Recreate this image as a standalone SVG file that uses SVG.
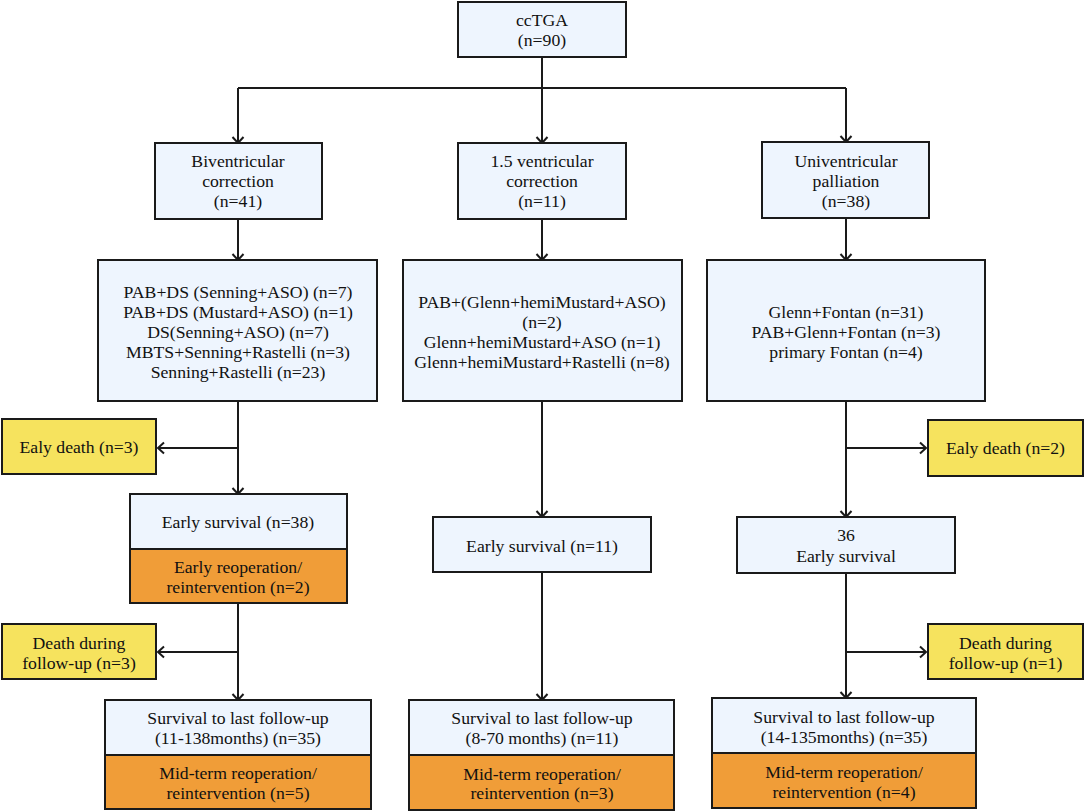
<svg xmlns="http://www.w3.org/2000/svg" width="1084" height="812" viewBox="0 0 1084 812">
<style>
.b{fill:#EEF5FE;stroke:#1a1a1a;stroke-width:2}
.y{fill:#F6E35E;stroke:#1a1a1a;stroke-width:2}
.o{fill:#F09D38;stroke:#1a1a1a;stroke-width:2}
text{font-family:"Liberation Serif","Times New Roman",serif;font-size:17.7px;fill:#111;text-anchor:middle}
.c line{stroke:#1a1a1a;stroke-width:2;fill:none}
.c .a{marker-end:url(#ah)}
</style>
<defs>
<marker id="ah" markerUnits="userSpaceOnUse" markerWidth="14" markerHeight="14" refX="11" refY="7" orient="auto">
<path d="M5,1.5 L11,7 L5,12.5" fill="none" stroke="#1a1a1a" stroke-width="2"/>
</marker>
</defs>
<rect width="1084" height="812" fill="#fff"/>
<g id="connectors" class="c">
<line x1="542" y1="57" x2="542" y2="88"/>
<line x1="238" y1="88" x2="846" y2="88"/>
<line class="a" x1="542" y1="88" x2="542" y2="143"/>
<line class="a" x1="238" y1="88" x2="238" y2="143"/>
<line class="a" x1="846" y1="88" x2="846" y2="142"/>
<line class="a" x1="238" y1="219" x2="238" y2="260"/>
<line class="a" x1="542" y1="219" x2="542" y2="260"/>
<line class="a" x1="846" y1="218" x2="846" y2="260"/>
<line class="a" x1="238" y1="401" x2="238" y2="494"/>
<line class="a" x1="238" y1="448" x2="158" y2="448"/>
<line class="a" x1="238" y1="603" x2="238" y2="700"/>
<line class="a" x1="238" y1="652" x2="158" y2="652"/>
<line class="a" x1="542" y1="401" x2="542" y2="517"/>
<line class="a" x1="542" y1="572" x2="542" y2="700"/>
<line class="a" x1="846" y1="401" x2="846" y2="517"/>
<line class="a" x1="846" y1="448" x2="926" y2="448"/>
<line class="a" x1="846" y1="573" x2="846" y2="698"/>
<line class="a" x1="846" y1="652" x2="926" y2="652"/>
</g>
<g id="ccTGA"><rect class="b" x="458" y="2" width="168" height="55"/><text x="542" y="26">ccTGA</text><text x="542" y="46">(n=90)</text></g>
<g id="biv"><rect class="b" x="155" y="143" width="167" height="76"/><text x="238" y="167">Biventricular</text><text x="238" y="187">correction</text><text x="238" y="207">(n=41)</text></g>
<g id="onehalf"><rect class="b" x="458" y="143" width="168" height="76"/><text x="542" y="167">1.5 ventricular</text><text x="542" y="187">correction</text><text x="542" y="207">(n=11)</text></g>
<g id="uni"><rect class="b" x="762" y="142" width="167" height="76"/><text x="846" y="167">Univentricular</text><text x="846" y="187">palliation</text><text x="846" y="207">(n=38)</text></g>
<g id="proc-biv"><rect class="b" x="98" y="260" width="279" height="141"/><text x="238" y="298">PAB+DS (Senning+ASO) (n=7)</text><text x="238" y="318">PAB+DS (Mustard+ASO) (n=1)</text><text x="238" y="338">DS(Senning+ASO) (n=7)</text><text x="238" y="358">MBTS+Senning+Rastelli (n=3)</text><text x="238" y="378">Senning+Rastelli (n=23)</text></g>
<g id="proc-onehalf"><rect class="b" x="403" y="260" width="279" height="141"/><text x="542" y="308">PAB+(Glenn+hemiMustard+ASO)</text><text x="542" y="328">(n=2)</text><text x="542" y="348">Glenn+hemiMustard+ASO (n=1)</text><text x="542" y="368">Glenn+hemiMustard+Rastelli (n=8)</text></g>
<g id="proc-uni"><rect class="b" x="707" y="260" width="278" height="141"/><text x="846" y="318">Glenn+Fontan (n=31)</text><text x="846" y="338">PAB+Glenn+Fontan (n=3)</text><text x="846" y="358">primary Fontan (n=4)</text></g>
<g id="death-early-biv"><rect class="y" x="2" y="419" width="154" height="55"/><text x="79" y="453">Ealy death (n=3)</text></g>
<g id="surv-early-biv"><rect class="b" x="130" y="494" width="217" height="55"/><rect class="o" x="130" y="549" width="217" height="54"/><text x="238" y="528">Early survival (n=38)</text><text x="238" y="573">Early reoperation/</text><text x="238" y="593">reintervention (n=2)</text></g>
<g id="death-fu-biv"><rect class="y" x="2" y="624" width="154" height="55"/><text x="79" y="649">Death during</text><text x="79" y="669">follow-up (n=3)</text></g>
<g id="surv-last-biv"><rect class="b" x="105" y="700" width="266" height="55"/><rect class="o" x="105" y="755" width="266" height="54"/><text x="238" y="724">Survival to last follow-up</text><text x="238" y="744">(11-138months) (n=35)</text><text x="238" y="779">Mid-term reoperation/</text><text x="238" y="799">reintervention (n=5)</text></g>
<g id="surv-early-onehalf"><rect class="b" x="433" y="517" width="218" height="55"/><text x="542" y="552">Early survival (n=11)</text></g>
<g id="surv-last-onehalf"><rect class="b" x="409" y="700" width="265" height="55"/><rect class="o" x="409" y="755" width="265" height="55"/><text x="542" y="724">Survival to last follow-up</text><text x="542" y="744">(8-70 months) (n=11)</text><text x="542" y="780">Mid-term reoperation/</text><text x="542" y="799">reintervention (n=3)</text></g>
<g id="death-early-uni"><rect class="y" x="928" y="420" width="155" height="56"/><text x="1005.5" y="454">Ealy death (n=2)</text></g>
<g id="surv-early-uni"><rect class="b" x="737" y="517" width="218" height="56"/><text x="846" y="541">36</text><text x="846" y="562">Early survival</text></g>
<g id="death-fu-uni"><rect class="y" x="928" y="624" width="155" height="55"/><text x="1005.5" y="649">Death during</text><text x="1005.5" y="669">follow-up (n=1)</text></g>
<g id="surv-last-uni"><rect class="b" x="712" y="698" width="264" height="55"/><rect class="o" x="712" y="753" width="264" height="55"/><text x="844" y="723">Survival to last follow-up</text><text x="844" y="743">(14-135months) (n=35)</text><text x="844" y="778">Mid-term reoperation/</text><text x="844" y="798">reintervention (n=4)</text></g>
</svg>
